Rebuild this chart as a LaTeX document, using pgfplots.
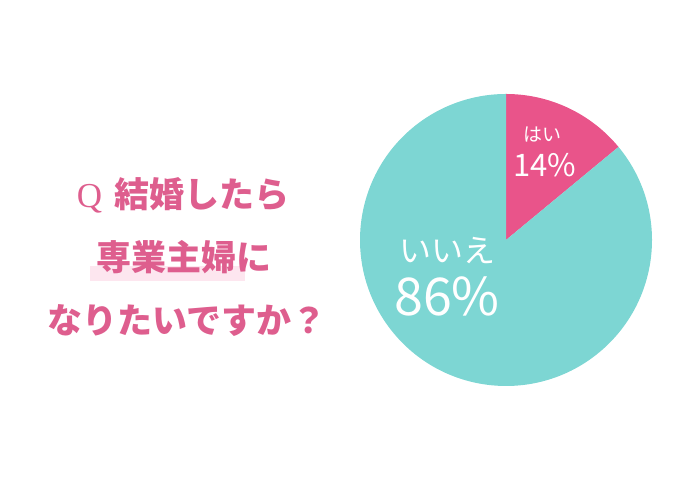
\documentclass[border=0pt]{standalone}
\usepackage{fontspec}
\usepackage{pgfplots}
\usepackage{pgfplotstable}
\pgfplotsset{compat=1.18}
\newfontfamily\cjk{Noto Sans CJK JP}
\setmainfont{Liberation Serif}
\definecolor{teal1}{HTML}{7DD6D3}
\definecolor{pink1}{HTML}{E9548A}
\definecolor{txtpink}{HTML}{DE5E8E}
\definecolor{hl}{HTML}{FDE6EF}
\pgfplotstableread{
label value
yes 14
no 86
}\piedata
\begin{document}
\begin{tikzpicture}[x=1pt,y=1pt]
\path (0,0) rectangle (350,245);
\pgfplotstablegetelem{0}{value}\of\piedata
\let\vyes\pgfplotsretval
\pgfplotstablegetelem{1}{value}\of\piedata
\let\vno\pgfplotsretval
\pgfmathsetmacro{\aend}{90-3.6*\vyes}
\pgfmathsetmacro{\bend}{\aend-3.6*\vno}
\begin{axis}[at={(253pt,125pt)},anchor=center,
  width=146pt,height=146pt,scale only axis,
  xmin=-1,xmax=1,ymin=-1,ymax=1,hide axis,clip=false]
\addplot[draw=none,forget plot] coordinates {(0,0)};
\fill[pink1] (axis cs:0,0) -- ++(90:73pt) arc[start angle=90,end angle=\aend,radius=73pt] -- cycle;
\fill[teal1] (axis cs:0,0) -- ++(\aend:73pt) arc[start angle=\aend,end angle=\bend,radius=73pt] -- cycle;
\end{axis}
\fill[hl] (45,104.5) rectangle (122.5,112);
\node[txtpink,anchor=center] at (91.5,147.5) {{\fontsize{17.5}{17.5}\selectfont Q}\hspace{6pt}{\cjk\bfseries\fontsize{17.5}{17.5}\selectfont 結婚したら}};
\node[txtpink,anchor=center] at (92,116.5) {\cjk\bfseries\fontsize{17.5}{17.5}\selectfont 専業主婦に};
\node[txtpink,anchor=center] at (93.5,84.5) {\cjk\bfseries\fontsize{17.5}{17.5}\selectfont なりたいですか？};
\node[white,anchor=center] at (271,177.5) {\cjk\fontsize{9.5}{9.5}\selectfont はい};
\node[white,anchor=center] at (272.5,162.5) {\cjk\fontsize{15.5}{15.5}\selectfont \vyes\%};
\node[white,anchor=center] at (223.5,119.5) {\cjk\fontsize{16}{16}\selectfont いいえ};
\node[white,anchor=center] at (223.5,97) {\cjk\fontsize{26}{26}\selectfont \vno\%};
\end{tikzpicture}
\end{document}
